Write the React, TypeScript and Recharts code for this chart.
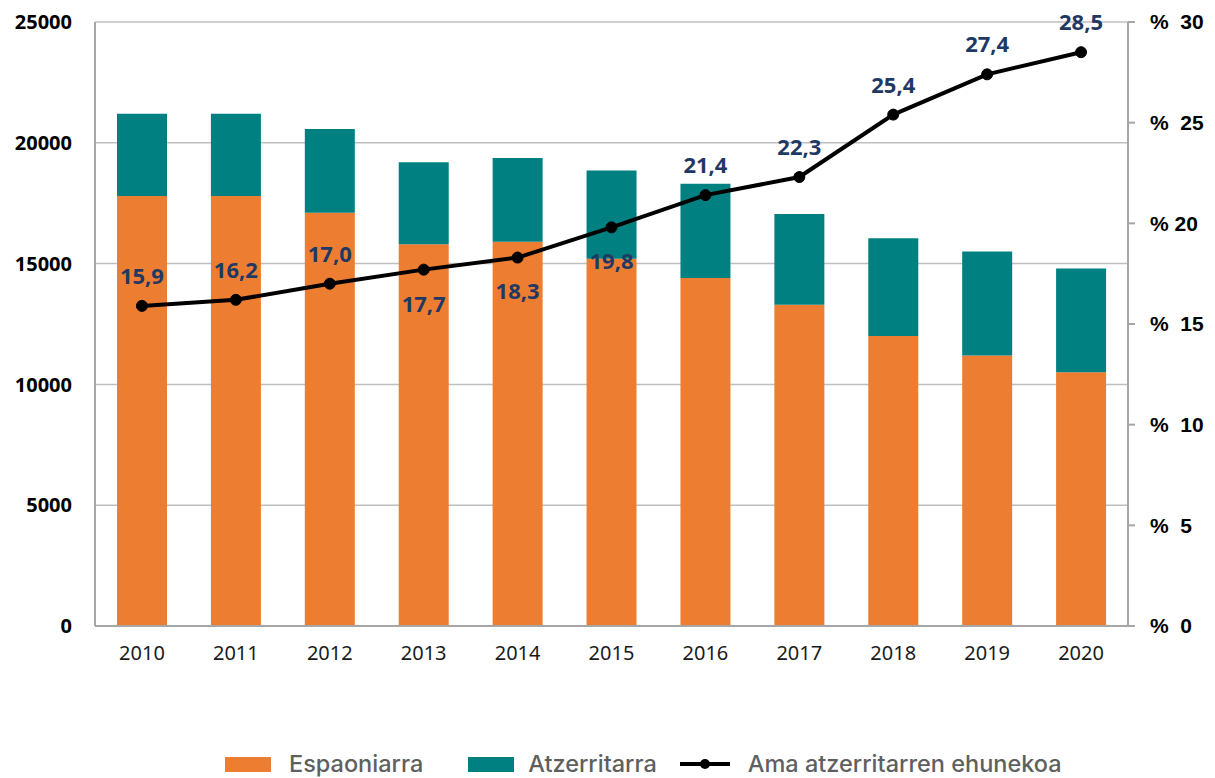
import React from "react";
import {
  ComposedChart,
  Bar,
  Line,
  XAxis,
  YAxis,
  CartesianGrid,
  Legend,
  LabelList,
} from "recharts";

const years = ["2010", "2011", "2012", "2013", "2014", "2015", "2016", "2017", "2018", "2019", "2020"];
const espaoniarra = [17800, 17800, 17100, 15800, 15900, 15200, 14400, 13300, 12000, 11200, 10500];
const atzerritarra = [3400, 3400, 3470, 3400, 3470, 3650, 3900, 3750, 4050, 4300, 4300];
const ehunekoa = [15.9, 16.2, 17.0, 17.7, 18.3, 19.8, 21.4, 22.3, 25.4, 27.4, 28.5];
// where each percentage label sits relative to its dot
const labelSide = ["top", "top", "top", "bottom", "bottom", "bottom", "top", "top", "top", "top", "top"];

const leftTicks = [0, 5000, 10000, 15000, 20000, 25000];
const rightTicks = [0, 5, 10, 15, 20, 25, 30];

const ORANGE = "#ED7D31";
const TEAL = "#008080";
const NAVY = "#1F3864";
const AXIS = "#A6A6A6";

const data = years.map((year, i) => ({
  year,
  espaoniarra: espaoniarra[i],
  atzerritarra: atzerritarra[i],
  ehunekoa: ehunekoa[i],
}));

const PctLabel = (props: any) => {
  const { x, y, value, index } = props;
  const below = labelSide[index] === "bottom";
  return (
    <text
      x={x}
      y={below ? y + 36 : y - 28}
      textAnchor="middle"
      dominantBaseline="middle"
      fontFamily="'Open Sans', sans-serif"
      fontWeight="bold"
      fontSize={22}
      fill={NAVY}
    >
      {Number(value).toFixed(1).replace(".", ",")}
    </text>
  );
};

const legendText: React.CSSProperties = {
  fontFamily: "Inter, sans-serif",
  fontSize: 23.5,
  fontWeight: 500,
  color: "#5f5f5f",
  lineHeight: "28px",
};

const ChartLegend = () => (
  <div style={{ display: "flex", alignItems: "center", height: 28, paddingLeft: 225 }}>
    <span style={{ width: 46, height: 15, background: ORANGE, marginRight: 18 }} />
    <span style={{ ...legendText, marginRight: 45 }}>Espaoniarra</span>
    <span style={{ width: 46, height: 15, background: TEAL, marginRight: 14 }} />
    <span style={{ ...legendText, marginRight: 23 }}>Atzerritarra</span>
    <svg width={50} height={14} style={{ marginRight: 18 }}>
      <line x1={0} y1={7} x2={50} y2={7} stroke="#000" strokeWidth={4} />
      <circle cx={25} cy={7} r={5} fill="#000" />
    </svg>
    <span style={legendText}>Ama atzerritarren ehunekoa</span>
  </div>
);

export default function App() {
  return (
    <div style={{ position: "absolute", top: 0, left: 0, width: 1215, height: 778, background: "#fff" }}>
      <ComposedChart
        width={1215}
        height={778}
        data={data}
        margin={{ top: 22, right: 0, bottom: 80, left: 0 }}
      >
        <CartesianGrid vertical={false} stroke="#BFBFBF" strokeWidth={1.5} />
        <XAxis
          dataKey="year"
          height={44}
          tickLine={false}
          axisLine={{ stroke: AXIS, strokeWidth: 2 }}
          tickMargin={14}
          tick={{ fontFamily: "'Noto Sans', sans-serif", fontSize: 20, fill: "#1a1a1a" }}
        />
        <YAxis
          width={95}
          domain={[0, 25000]}
          ticks={leftTicks}
          interval={0}
          tickLine={false}
          axisLine={{ stroke: AXIS, strokeWidth: 2 }}
          tickMargin={17}
          tick={{ fontFamily: "'Open Sans', sans-serif", fontWeight: "bold", fontSize: 20, fill: "#000" }}
        />
        <YAxis
          yAxisId="pct"
          orientation="right"
          width={87}
          domain={[0, 30]}
          ticks={rightTicks}
          interval={0}
          tickSize={7}
          tickLine={{ stroke: AXIS, strokeWidth: 2 }}
          axisLine={{ stroke: AXIS, strokeWidth: 2 }}
          tickMargin={15}
          tickFormatter={(v: number) => (v === 20 ? "% 20" : "%\u00A0\u00A0" + v)}
          tick={{ fontFamily: "'Liberation Sans', Arial, sans-serif", fontWeight: "bold", fontSize: 21, fill: "#000" }}
        />
        <Bar dataKey="espaoniarra" stackId="a" fill={ORANGE} barSize={50} isAnimationActive={false} />
        <Bar dataKey="atzerritarra" stackId="a" fill={TEAL} barSize={50} isAnimationActive={false} />
        <Line
          yAxisId="pct"
          dataKey="ehunekoa"
          stroke="#000"
          strokeWidth={4}
          dot={{ r: 5.5, fill: "#000", stroke: "#000", strokeWidth: 1 }}
          isAnimationActive={false}
        >
          <LabelList dataKey="ehunekoa" content={PctLabel} />
        </Line>
        <Legend
          verticalAlign="bottom"
          content={() => <ChartLegend />}
          wrapperStyle={{ left: 0, bottom: 0, width: 1215 }}
        />
      </ComposedChart>
    </div>
  );
}
